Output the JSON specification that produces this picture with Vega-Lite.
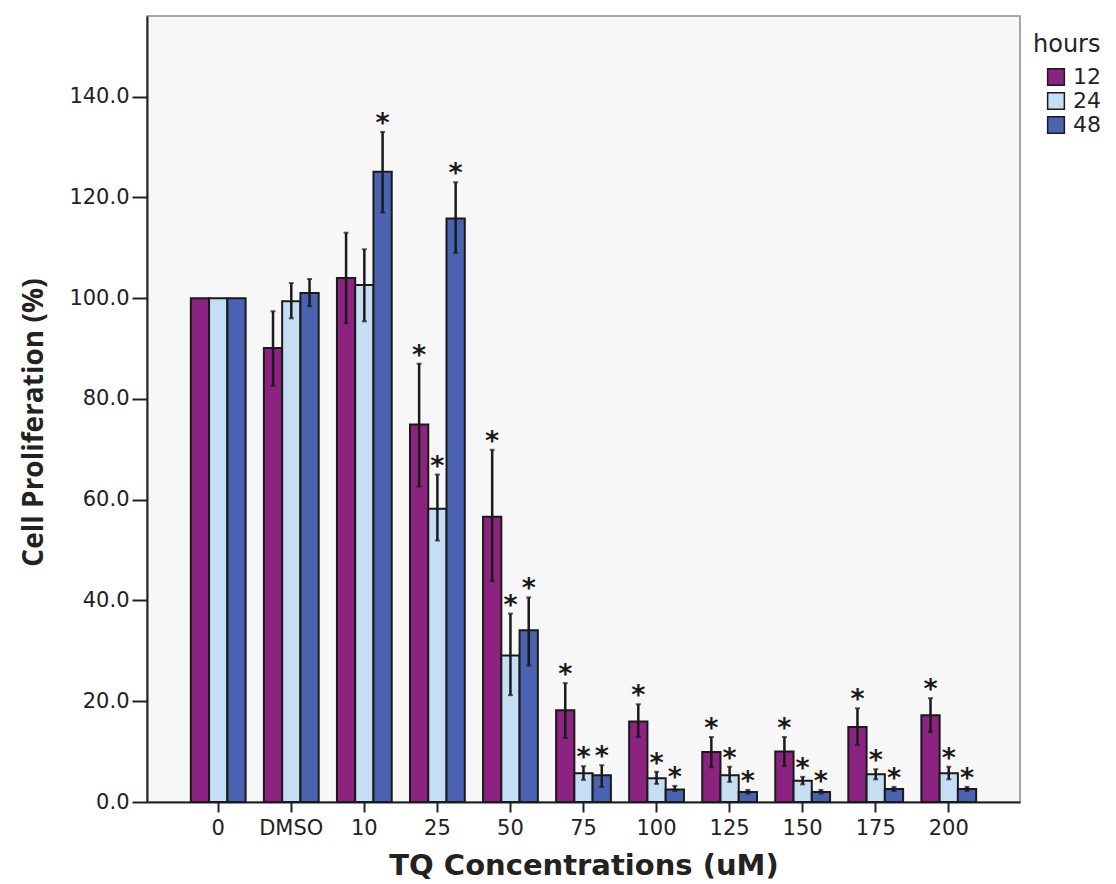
{
  "$schema": "https://vega.github.io/schema/vega-lite/v6.json",
  "width": 873,
  "height": 786,
  "autosize": "none",
  "padding": {"left": 147, "top": 16, "right": 96, "bottom": 82},
  "background": "white",
  "config": {
    "view": {"fill": "#f7f7f7", "stroke": "#8a8a8a", "strokeWidth": 1.5},
    "font": "DejaVu Sans"
  },
  "data": {
    "values": [
      {"c": "0", "h": "12", "v": 100, "lo": null, "hi": null, "s": false},
      {"c": "0", "h": "24", "v": 100, "lo": null, "hi": null, "s": false},
      {"c": "0", "h": "48", "v": 100, "lo": null, "hi": null, "s": false},
      {"c": "DMSO", "h": "12", "v": 90.1, "lo": 82.6, "hi": 97.4, "s": false},
      {"c": "DMSO", "h": "24", "v": 99.4, "lo": 96.0, "hi": 103.0, "s": false},
      {"c": "DMSO", "h": "48", "v": 101.0, "lo": 98.4, "hi": 103.8, "s": false},
      {"c": "10", "h": "12", "v": 104.0, "lo": 95.0, "hi": 113.0, "s": false},
      {"c": "10", "h": "24", "v": 102.6, "lo": 95.4, "hi": 109.7, "s": false},
      {"c": "10", "h": "48", "v": 125.1, "lo": 117.0, "hi": 133.0, "s": true},
      {"c": "25", "h": "12", "v": 74.9, "lo": 62.6, "hi": 87.0, "s": true},
      {"c": "25", "h": "24", "v": 58.2, "lo": 51.9, "hi": 65.0, "s": true},
      {"c": "25", "h": "48", "v": 115.8, "lo": 109.0, "hi": 123.0, "s": true},
      {"c": "50", "h": "12", "v": 56.6, "lo": 43.8, "hi": 69.9, "s": true},
      {"c": "50", "h": "24", "v": 29.1, "lo": 21.2, "hi": 37.4, "s": true},
      {"c": "50", "h": "48", "v": 34.1, "lo": 27.1, "hi": 40.6, "s": true},
      {"c": "75", "h": "12", "v": 18.2, "lo": 12.7, "hi": 23.6, "s": true},
      {"c": "75", "h": "24", "v": 5.7, "lo": 4.4, "hi": 7.1, "s": true},
      {"c": "75", "h": "48", "v": 5.3, "lo": 3.0, "hi": 7.3, "s": true},
      {"c": "100", "h": "12", "v": 16.0, "lo": 12.9, "hi": 19.4, "s": true},
      {"c": "100", "h": "24", "v": 4.7, "lo": 3.6, "hi": 6.0, "s": true},
      {"c": "100", "h": "48", "v": 2.5, "lo": 2.2, "hi": 3.2, "s": true},
      {"c": "125", "h": "12", "v": 9.9, "lo": 6.9, "hi": 12.9, "s": true},
      {"c": "125", "h": "24", "v": 5.3, "lo": 4.0, "hi": 7.0, "s": true},
      {"c": "125", "h": "48", "v": 2.0, "lo": 1.7, "hi": 2.4, "s": true},
      {"c": "150", "h": "12", "v": 10.0, "lo": 7.1, "hi": 12.9, "s": true},
      {"c": "150", "h": "24", "v": 4.2, "lo": 3.5, "hi": 5.0, "s": true},
      {"c": "150", "h": "48", "v": 2.0, "lo": 1.7, "hi": 2.4, "s": true},
      {"c": "175", "h": "12", "v": 14.9, "lo": 11.3, "hi": 18.6, "s": true},
      {"c": "175", "h": "24", "v": 5.5, "lo": 4.5, "hi": 6.5, "s": true},
      {"c": "175", "h": "48", "v": 2.6, "lo": 2.2, "hi": 3.0, "s": true},
      {"c": "200", "h": "12", "v": 17.2, "lo": 13.9, "hi": 20.6, "s": true},
      {"c": "200", "h": "24", "v": 5.7, "lo": 4.5, "hi": 7.0, "s": true},
      {"c": "200", "h": "48", "v": 2.6, "lo": 2.2, "hi": 3.0, "s": true}
    ]
  },
  "encoding": {
    "x": {
      "field": "c",
      "type": "nominal",
      "sort": null,
      "scale": {"paddingInner": 0.25, "paddingOuter": 0.6},
      "axis": {
        "title": "TQ Concentrations (uM)",
        "titleFont": "DejaVu Sans",
        "titleFontWeight": "bold",
        "titleFontSize": 29,
        "titleColor": "#222",
        "titlePadding": 13,
        "labelAngle": 0,
        "labelFontSize": 21,
        "labelColor": "#222",
        "labelPadding": 5,
        "tickSize": 10,
        "tickWidth": 2,
        "tickColor": "#222",
        "domainColor": "#222",
        "domainWidth": 2
      }
    },
    "xOffset": {"field": "h", "type": "nominal", "scale": {"paddingInner": 0, "paddingOuter": 0}}
  },
  "layer": [
    {
      "mark": {"type": "bar", "stroke": "#1a1a1a", "strokeWidth": 2},
      "encoding": {
        "y": {
          "field": "v",
          "type": "quantitative",
          "scale": {"domain": [0, 156], "nice": false},
          "axis": {
            "values": [0, 20, 40, 60, 80, 100, 120, 140],
            "format": ".1f",
            "grid": false,
            "title": "Cell Proliferation (%)",
            "titleFont": "Open Sans",
            "titleFontWeight": "bold",
            "titleFontSize": 28,
            "titleColor": "#222",
            "titlePadding": 20,
            "titleY": 406,
            "labelFontSize": 21,
            "labelColor": "#222",
            "labelPadding": 3,
            "tickSize": 15,
            "tickWidth": 2,
            "tickColor": "#222",
            "domainColor": "#222",
            "domainWidth": 2
          }
        },
        "color": {
          "field": "h",
          "type": "nominal",
          "scale": {"domain": ["12", "24", "48"], "range": ["#8c2380", "#c6def3", "#4a62b0"]},
          "legend": {
            "title": "hours",
            "orient": "none",
            "legendX": 886,
            "legendY": 17,
            "titleFontSize": 24,
            "titleFontWeight": "normal",
            "titleColor": "#222",
            "labelFontSize": 22,
            "labelColor": "#222",
            "symbolType": "square",
            "symbolSize": 280,
            "symbolOffset": 12,
            "symbolStrokeColor": "#1a1a1a",
            "symbolStrokeWidth": 1.5,
            "rowPadding": 0,
            "labelOffset": 6,
            "titlePadding": 9,
            "padding": 0
          }
        }
      }
    },
    {
      "transform": [{"filter": "datum.hi != null"}],
      "mark": {"type": "rule", "color": "#1a1a1a", "strokeWidth": 2.5},
      "encoding": {
        "y": {"field": "lo", "type": "quantitative"},
        "y2": {"field": "hi"}
      }
    },
    {
      "transform": [{"filter": "datum.hi != null"}],
      "mark": {"type": "tick", "color": "#1a1a1a", "thickness": 2, "size": 5},
      "encoding": {
        "y": {"field": "hi", "type": "quantitative"}
      }
    },
    {
      "transform": [{"filter": "datum.hi != null"}],
      "mark": {"type": "tick", "color": "#1a1a1a", "thickness": 2, "size": 5},
      "encoding": {
        "y": {"field": "lo", "type": "quantitative"}
      }
    },
    {
      "transform": [{"filter": "datum.s"}],
      "mark": {"type": "text", "text": "*", "fontSize": 27, "fontWeight": "bold", "dy": 6, "baseline": "bottom", "color": "#1a1a1a"},
      "encoding": {
        "y": {"field": "hi", "type": "quantitative"}
      }
    }
  ]
}
